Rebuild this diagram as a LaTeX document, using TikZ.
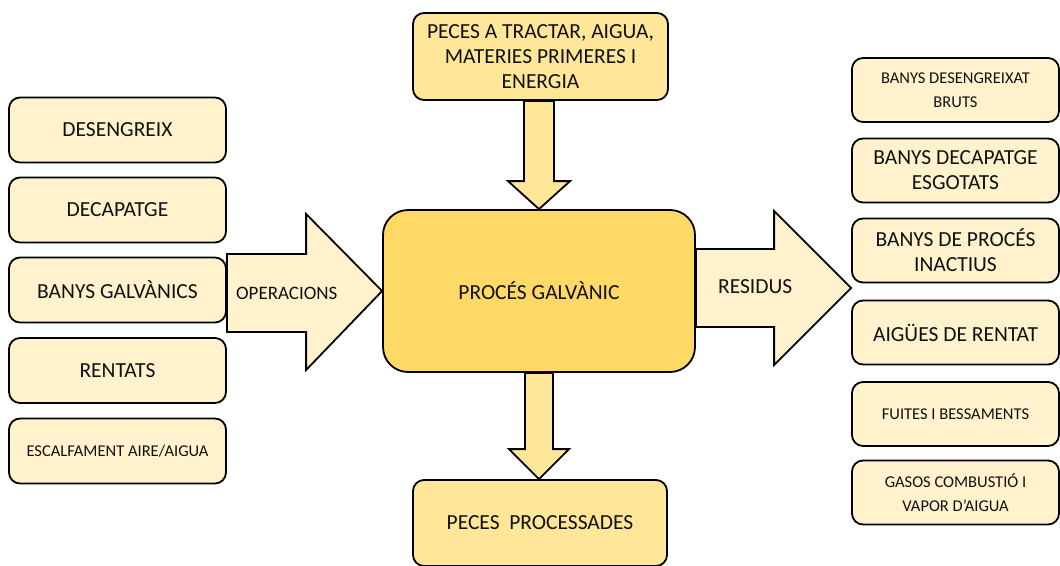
\documentclass[tikz,border=0pt]{standalone}
\usepackage{fontspec}
\setmainfont{Carlito}
\usetikzlibrary{calc,backgrounds}
\definecolor{cream}{HTML}{FFF2CC}
\definecolor{gold}{HTML}{FFD966}
\definecolor{sand}{HTML}{FFE699}
\definecolor{ink}{HTML}{111111}

\begin{document}
\begin{tikzpicture}[x=1pt,y=-1pt,
  box/.style={draw=black, line width=1.8pt, rounded corners=11pt, fill=cream,
    minimum width=217pt, minimum height=65pt, align=center, inner sep=2pt,
    text=ink, font=\fontsize{21.5}{25}\selectfont},
  rbox/.style={box, minimum width=207pt, minimum height=64pt},
  smalltxt/.style={font=\fontsize{16.5}{24}\selectfont},
  keybox/.style={box, fill=sand, minimum width=255pt, minimum height=87pt},
  procbox/.style={box, fill=gold, rounded corners=25pt, minimum width=312pt, minimum height=162pt},
  hflow/.style={draw=black, line width=1.8pt, line join=miter, fill=cream},
  vflow/.style={draw=black, line width=1.8pt, line join=miter, fill=sand},
  flowlbl/.style={anchor=west, inner sep=0pt, text=ink, font=\fontsize{21.5}{24}\selectfont}]

\useasboundingbox (0,0) rectangle (1060,565);

% central process and its input / output
\node[keybox] (in) at (540.5,56.5) {PECES A TRACTAR, AIGUA,\\MATERIES PRIMERES I\\ENERGIA};
\node[procbox] (proc) at (539,291) {PROCÉS GALVÀNIC};
\node[keybox, minimum width=254pt, minimum height=86pt] (out) at (540,523) {PECES\ \ PROCESSADES};

% operations
\node[box] (op1) at (117.5,130) {DESENGREIX};
\node[box] (op2) at (117.5,210) {DECAPATGE};
\node[box] (op3) at (117.5,290) {BANYS GALVÀNICS};
\node[box] (op4) at (117.5,370.5) {RENTATS};
\node[box, smalltxt] (op5) at (117.5,451) {ESCALFAMENT AIRE/AIGUA};

% waste streams
\node[rbox, smalltxt] (w1) at (955.5,90) {BANYS DESENGREIXAT\\BRUTS};
\node[rbox] (w2) at (955.5,170.5) {BANYS DECAPATGE\\ESGOTATS};
\node[rbox] (w3) at (955.5,250.5) {BANYS DE PROCÉS\\INACTIUS};
\node[rbox] (w4) at (955.5,332.5) {AIGÜES DE RENTAT};
\node[rbox, smalltxt] (w5) at (955.5,414) {FUITES I BESSAMENTS};
\node[rbox, smalltxt] (w6) at (955.5,492.5) {GASOS COMBUSTIÓ I\\VAPOR D’AIGUA};

% block arrows, kept behind the boxes
\begin{scope}[on background layer]
  % inputs down into the process
  \coordinate (a0) at (in.south -| proc.north);
  \draw[vflow] ($(a0)+(-15,0)$) -- ($(proc.north)+(-15,-28)$) -- ($(proc.north)+(-31,-28)$)
    -- (proc.north) -- ($(proc.north)+(31,-28)$) -- ($(proc.north)+(15,-28)$)
    -- ($(a0)+(15,0)$) -- cycle;
  % processed parts out of the process
  \coordinate (b1) at (out.north -| proc.south);
  \draw[vflow] ($(proc.south)+(-14,0)$) -- ($(b1)+(-14,-30)$) -- ($(b1)+(-30,-30)$)
    -- (b1) -- ($(b1)+(30,-30)$) -- ($(b1)+(14,-30)$)
    -- ($(proc.south)+(14,0)$) -- cycle;
  % operations into the process
  \coordinate (c0) at (op3.east |- proc.west);
  \draw[hflow] ($(c0)+(0,-37)$) -- ($(proc.west)+(-76,-37)$) -- ($(proc.west)+(-76,-77)$)
    -- (proc.west) -- ($(proc.west)+(-76,79)$) -- ($(proc.west)+(-76,41)$)
    -- ($(c0)+(0,41)$) -- cycle;
  % waste out of the process
  \coordinate (d1) at ($(w3.west |- proc.east)+(0,-3)$);
  \draw[hflow] ($(proc.east)+(0,-42)$) -- ($(d1)+(-77,-39)$) -- ($(d1)+(-77,-77)$)
    -- (d1) -- ($(d1)+(-77,77)$) -- ($(d1)+(-77,39)$)
    -- ($(proc.east)+(0,36)$) -- cycle;
\end{scope}

\node[flowlbl, font=\fontsize{19}{22}\selectfont] (opl) at ($(c0)+(9,2)$) {OPERACIONS};
\node[flowlbl] (rel) at ($(proc.east)+(22,-4)$) {RESIDUS};

\end{tikzpicture}
\end{document}
